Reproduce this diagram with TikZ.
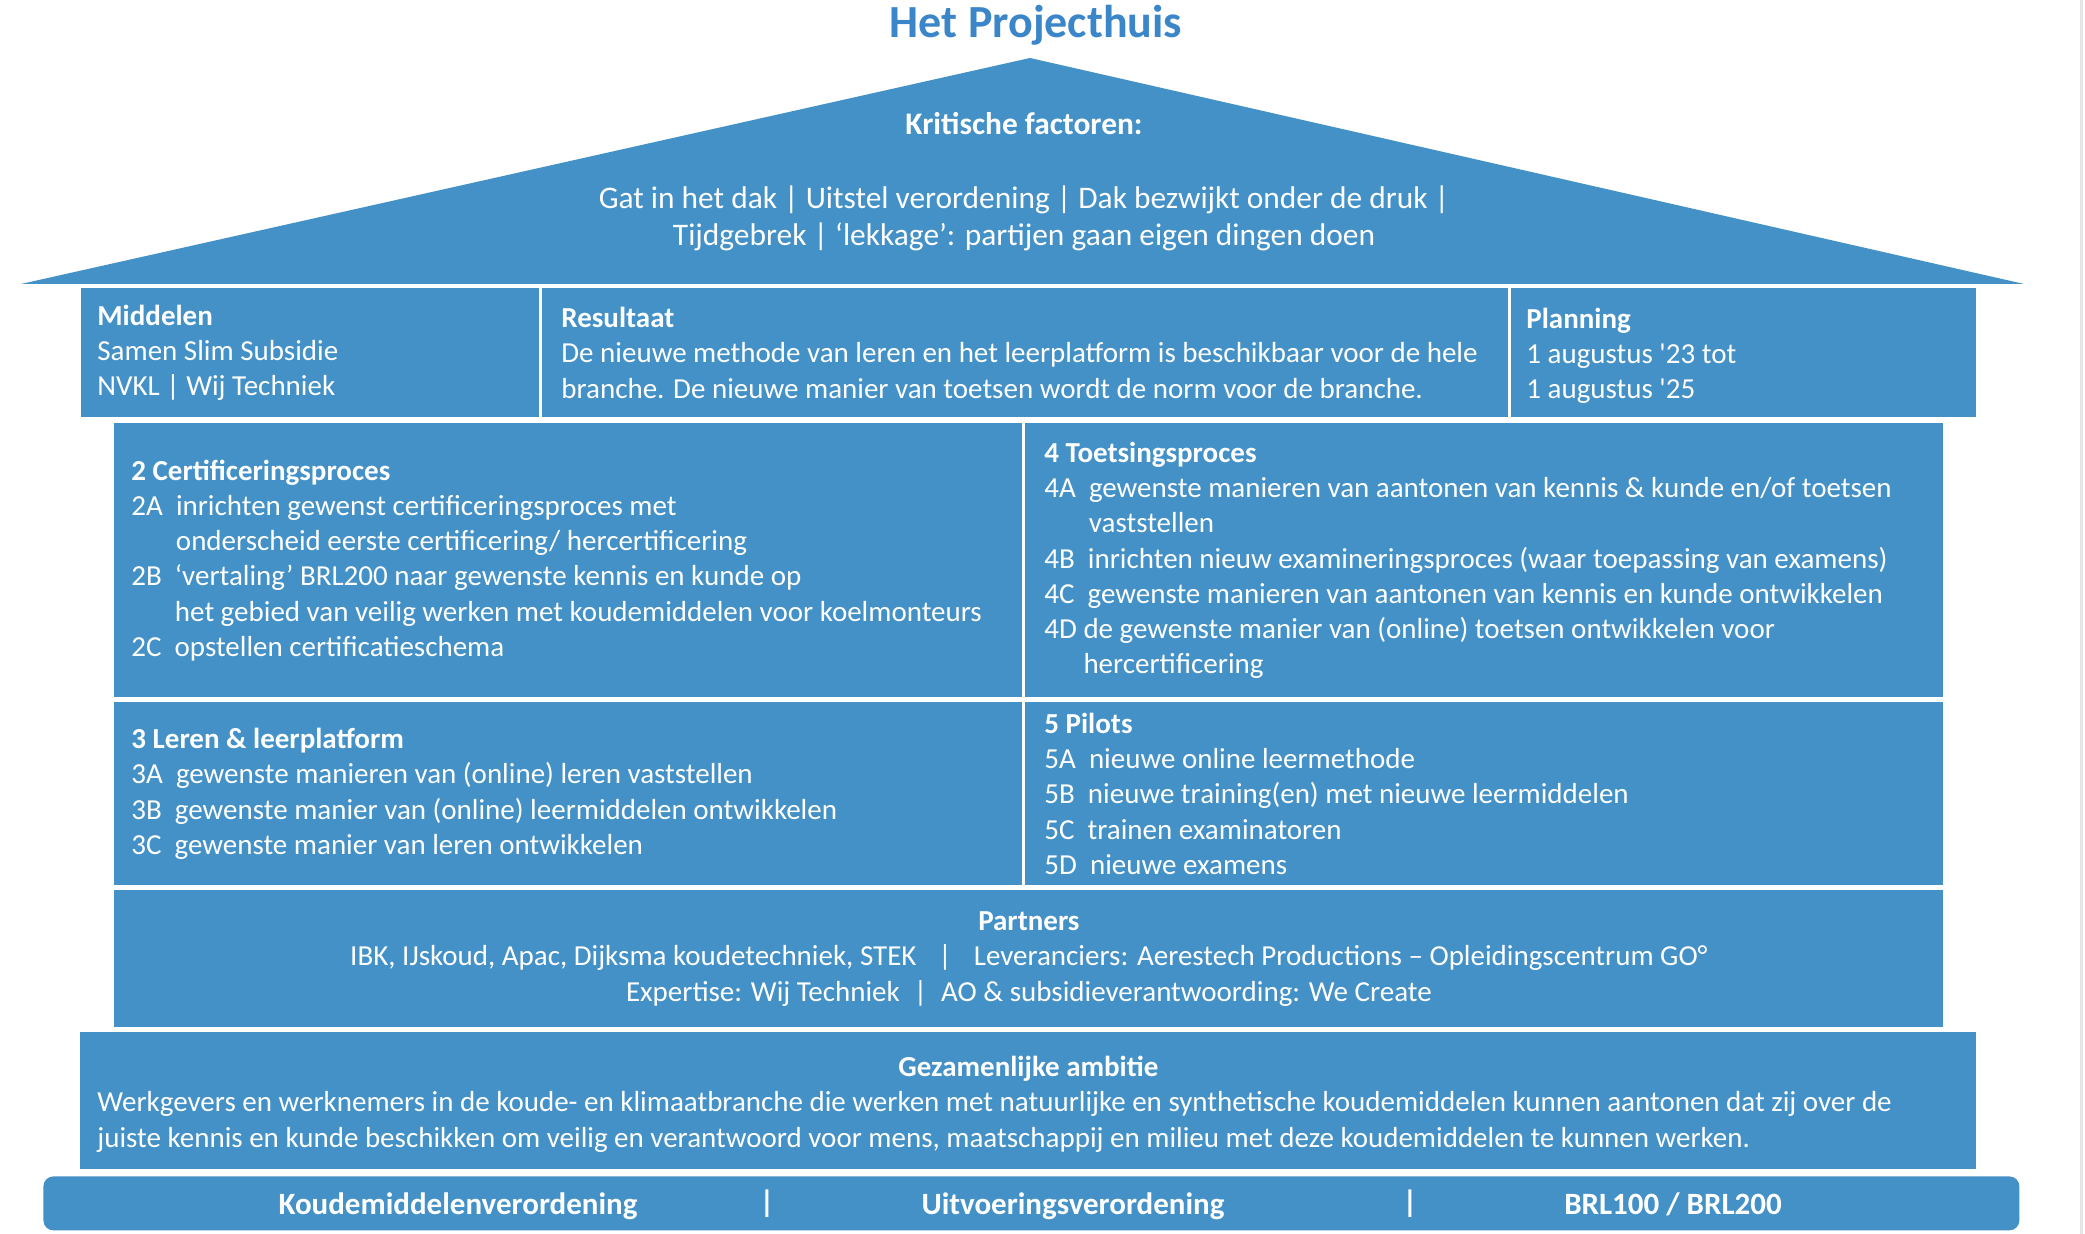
\documentclass[tikz,border=0pt]{standalone}
\usepackage{fontspec}
\usepackage{tikz}
\usetikzlibrary{positioning}
\newfontfamily\housefont{Carlito}
\definecolor{houseblue}{RGB}{68,145,199}
\definecolor{titleblue}{RGB}{58,134,200}
\newcommand\hbody{\housefont\fontsize{14.5}{17.6}\selectfont}
\newcommand\roofont{\housefont\fontsize{15.7}{18.5}\selectfont}
\newcommand\barfont{\housefont\bfseries\fontsize{15.5}{18}\selectfont}
\tikzset{
  cell/.style={fill=houseblue, anchor=north west, inner sep=0pt},
  celltext/.style={text=white, font=\hbody, align=left, inner sep=0pt, anchor=west},
}

\begin{document}
\begin{tikzpicture}[x=0.5pt, y=-0.5pt]
\useasboundingbox (0,0) rectangle (2085,1234);
\draw[black!10, line width=1.5pt] (2081,0) -- (2081,1234);

\node[text=titleblue, font=\housefont\bfseries\fontsize{23}{27}\selectfont, inner sep=0pt] (titel) at (1036,25) {Het Projecthuis};

\fill[houseblue] (21,284) -- (1030,58) -- (2024,284) -- cycle;
\node[celltext, anchor=center, font=\roofont\bfseries] (kritisch) at (1024,124) {Kritische factoren:};
\node[celltext, anchor=center, align=center, font=\roofont] (factoren) at (1024,218.5) {Gat in het dak | Uitstel verordening | Dak bezwijkt onder de druk |\\Tijdgebrek | ‘lekkage’: partijen gaan eigen dingen doen};

\node[cell, minimum width=229pt, minimum height=64.5pt] (middelen) at (81,288) {};
\node[cell, minimum width=483pt, minimum height=64.5pt] (resultaat) at (542,288) {};
\node[cell, minimum width=232.5pt, minimum height=64.5pt] (planning) at (1511,288) {};
\node[celltext, right=8pt of middelen.west] (middelentxt) {\textbf{Middelen}\\Samen Slim Subsidie\\NVKL | Wij Techniek};
\node[celltext, right=9.5pt of resultaat.west] (resultaattxt) {\textbf{Resultaat}\\De nieuwe methode van leren en het leerplatform is beschikbaar voor de hele\\branche. De nieuwe manier van toetsen wordt de norm voor de branche.};
\node[celltext, right=7.5pt of planning.west, yshift=-1.5pt] (planningtxt) {\textbf{Planning}\\1 augustus '23 tot\\1 augustus '25};

\node[cell, minimum width=454pt, minimum height=137pt] (cert) at (114,423) {};
\node[cell, minimum width=459pt, minimum height=137pt] (toets) at (1025,423) {};
\node[celltext, right=8.5pt of cert.west] (certtxt) {\textbf{2 Certificeringsproces}\\
2A\ \ inrichten gewenst certificeringsproces met\\
\hphantom{2A\ \ }onderscheid eerste certificering/ hercertificering\\
2B\ \ ‘vertaling’ BRL200 naar gewenste kennis en kunde op\\
\hphantom{2B\ \ }het gebied van veilig werken met koudemiddelen voor koelmonteurs\\
2C\ \ opstellen certificatieschema};
\node[celltext, right=9.5pt of toets.west] (toetstxt) {\textbf{4 Toetsingsproces}\\
4A\ \ gewenste manieren van aantonen van kennis \& kunde en/of toetsen\\
\hphantom{4A\ \ }vaststellen\\
4B\ \ inrichten nieuw examineringsproces (waar toepassing van examens)\\
4C\ \ gewenste manieren van aantonen van kennis en kunde ontwikkelen\\
4D de gewenste manier van (online) toetsen ontwikkelen voor\\
\hphantom{4D\ }hercertificering};

\node[cell, minimum width=454pt, minimum height=91.5pt] (leren) at (114,702) {};
\node[cell, minimum width=459pt, minimum height=91.5pt] (pilots) at (1025,702) {};
\node[celltext, right=8.5pt of leren.west] (lerentxt) {\textbf{3 Leren \& leerplatform}\\
3A\ \ gewenste manieren van (online) leren vaststellen\\
3B\ \ gewenste manier van (online) leermiddelen ontwikkelen\\
3C\ \ gewenste manier van leren ontwikkelen};
\node[celltext, right=9.5pt of pilots.west] (pilotstxt) {\textbf{5 Pilots}\\
5A\ \ nieuwe online leermethode\\
5B\ \ nieuwe training(en) met nieuwe leermiddelen\\
5C\ \ trainen examinatoren\\
5D\ \ nieuwe examens};

\node[cell, minimum width=914.5pt, minimum height=68.5pt] (partners) at (114,890) {};
\node[celltext, anchor=center, align=center] (partnerstxt) at (partners.center) {\textbf{Partners}\\
IBK, IJskoud, Apac, Dijksma koudetechniek, STEK\hspace{11pt}|\hspace{11pt}Leveranciers: Aerestech Productions – Opleidingscentrum GO°\\
Expertise: Wij Techniek\hspace{7pt}|\hspace{7pt}AO \& subsidieverantwoording: We Create};

\node[cell, minimum width=948pt, minimum height=68.5pt] (ambitie) at (80,1032) {};
\node[celltext, font=\hbody\bfseries, anchor=north, below=12pt of ambitie.north] (ambitiekop) {Gezamenlijke ambitie};
\node[celltext, right=8.5pt of ambitie.west, yshift=-10.5pt] (ambitietxt) {Werkgevers en werknemers in de koude- en klimaatbranche die werken met natuurlijke en synthetische koudemiddelen kunnen aantonen dat zij over de\\
juiste kennis en kunde beschikken om veilig en verantwoord voor mens, maatschappij en milieu met deze koudemiddelen te kunnen werken.};

\node[cell, rounded corners=5pt, minimum width=988pt, minimum height=27pt] (wetgeving) at (43,1176) {};
\foreach \x/\wet [count=\i] in {458/Koudemiddelenverordening, 1073/Uitvoeringsverordening, 1673/{BRL100 / BRL200}}
  \node[text=white, font=\barfont, inner sep=0pt, anchor=base] (wet\i) at (\x,1215) {\wet};
\foreach \x [count=\i] in {767,1410}
  \node[text=white, font=\barfont, inner sep=0pt] (streep\i) at (\x,1204) {|};
\end{tikzpicture}
\end{document}
